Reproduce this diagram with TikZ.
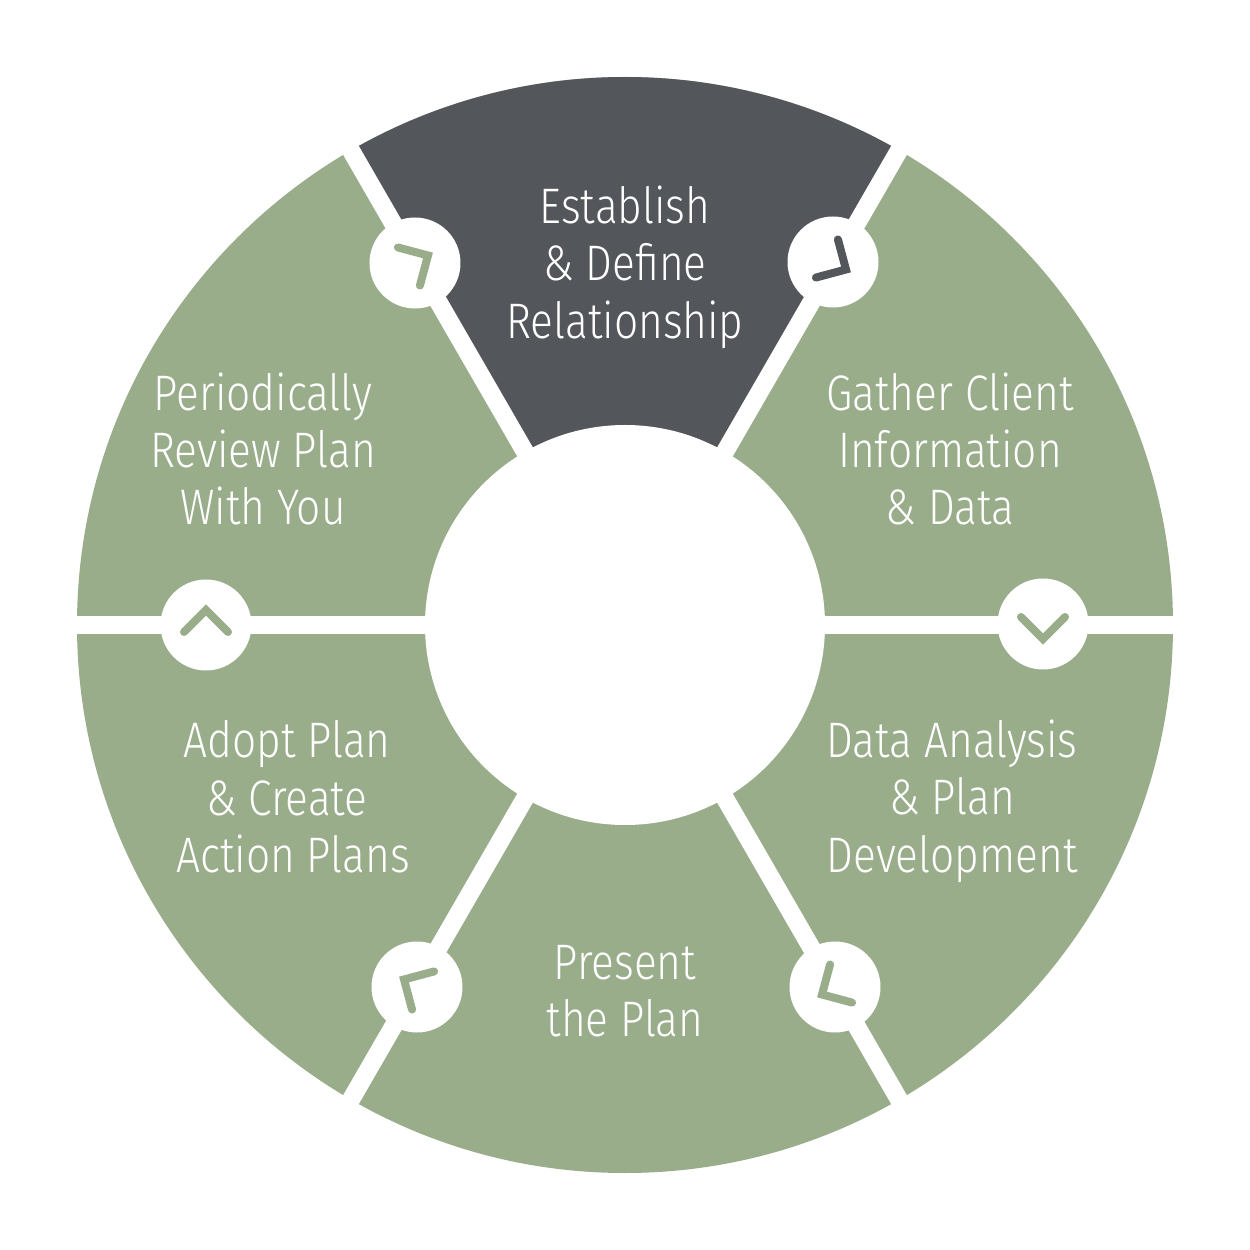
\documentclass[tikz,border=0pt]{standalone}
\usepackage{fontspec}
\setmainfont{Fira Sans Light}[FakeStretch=0.85]
\usepackage{xcolor}
\usetikzlibrary{positioning}
\definecolor{sage}{HTML}{9AAD8B}
\definecolor{slate}{HTML}{53565A}

\begin{document}
\begin{tikzpicture}[font=\fontsize{14.2}{16.35}\selectfont]
        \tikzstyle{lbl}=[align=center,text=white,inner sep=0pt]
        \tikzstyle{hub}=[circle,fill=white,inner sep=0pt,minimum size=0.91cm]
        \tikzstyle{gap}=[draw=white,line width=0.18cm]
        \tikzstyle{chev}=[line width=0.08cm,line cap=round,miter limit=10]
        \useasboundingbox (-6.25,-6.25) rectangle (6.25,6.25);
        % Ring, highlighted sector on top
        \fill[sage] (0,0) circle (5.48);
        \fill[slate] (0,0) -- (60:5.48) arc (60:120:5.48) -- cycle;
        \foreach \a in {0,60,...,300} {
          \draw[gap] (0,0) -- (\a:5.6);
        }
        \node[circle,fill=white,inner sep=0pt,minimum size=4cm] (core) at (0,0) {};
        % Step labels
        \node[lbl] (s1) at (0,3.58) {Establish\\\& Define\\Relationship};
        \node[lbl] (s2) at (3.25,1.76) {Gather Client\\Information\\\& Data};
        \node[lbl] (s3) at (3.27,-1.76) {Data Analysis\\\& Plan\\Development};
        \node[lbl] (s4) at (0,-3.66) {Present\\the Plan};
        \node[lbl] (s5) at (-3.38,-1.72) {Adopt Plan\\\& Create\\\kern0.12cm Action Plans};
        \node[lbl] (s6) at (-3.62,1.76) {Periodically\\Review Plan\\With You};
        % Hubs on the dividers, each with its chevron
        \foreach \i/\x/\y/\r/\c in {1/2.08/3.63/-120/slate,2/4.18/0.01/180/sage,3/2.10/-3.62/120/sage,4/-2.08/-3.62/60/sage,5/-4.19/0/0/sage,6/-2.10/3.62/-60/sage} {
          \node[hub] (h\i) at (\x,\y) {};
          \draw[chev,draw=\c,shift={(h\i.center)},rotate=\r] (-0.22,-0.07) -- (0,0.15) -- (0.22,-0.07);
        }
      \end{tikzpicture}
\end{document}
